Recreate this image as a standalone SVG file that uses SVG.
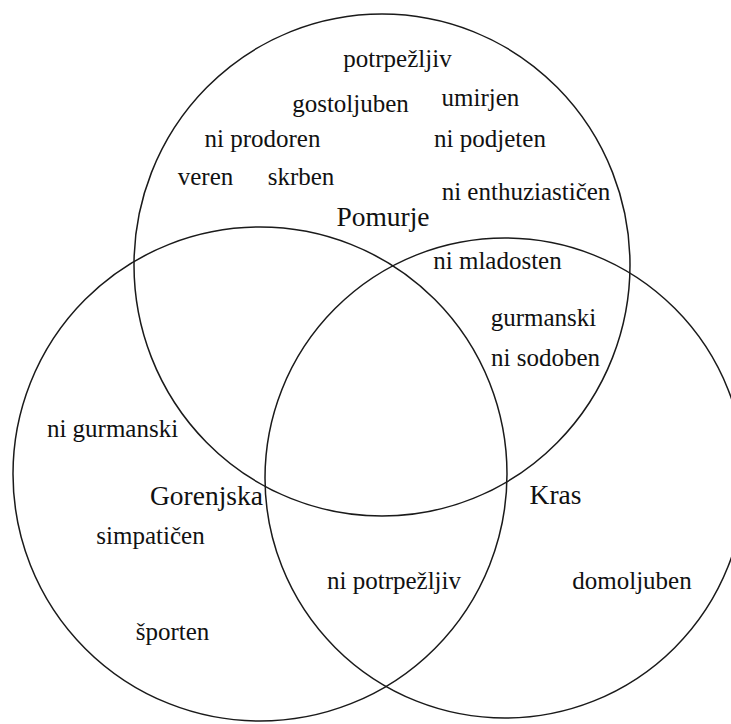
<svg xmlns="http://www.w3.org/2000/svg" width="731" height="724" viewBox="0 0 731 724">
  <style>
    .set { fill: none; stroke: #1a1a1a; stroke-width: 1.5; }
    text { font-family: 'Liberation Serif', 'DejaVu Serif', serif; fill: #111; text-anchor: middle; }
    .label { font-size: 27.5px; }
    .trait { font-size: 25px; }
  </style>
  <rect width="731" height="724" fill="#ffffff"/>

  <!-- Set circles -->
  <g id="pomurje">
    <ellipse class="set" cx="382" cy="265" rx="248" ry="251"/>
    <text class="label" x="383" y="226">Pomurje</text>
  </g>
  <g id="gorenjska">
    <circle class="set" cx="260" cy="474" r="247"/>
    <text class="label" x="206.5" y="505">Gorenjska</text>
  </g>
  <g id="kras">
    <circle class="set" cx="505" cy="478" r="240"/>
    <text class="label" x="555.5" y="504">Kras</text>
  </g>

  <!-- Traits placed in their regions -->
  <g id="traits" font-family="Liberation Serif, serif">
    <text class="trait" x="397.5" y="67">potrpežljiv</text>
    <text class="trait" x="350.5" y="112">gostoljuben</text>
    <text class="trait" x="480.5" y="106">umirjen</text>
    <text class="trait" x="262.5" y="147">ni prodoren</text>
    <text class="trait" x="490" y="147">ni podjeten</text>
    <text class="trait" x="205.5" y="185">veren</text>
    <text class="trait" x="301" y="185">skrben</text>
    <text class="trait" x="526" y="200">ni enthuziastičen</text>
    <text class="trait" x="497.5" y="269">ni mladosten</text>
    <text class="trait" x="543.5" y="326">gurmanski</text>
    <text class="trait" x="545.5" y="366">ni sodoben</text>
    <text class="trait" x="112.5" y="437">ni gurmanski</text>
    <text class="trait" x="150.5" y="544">simpatičen</text>
    <text class="trait" x="394" y="589">ni potrpežljiv</text>
    <text class="trait" x="632" y="589">domoljuben</text>
    <text class="trait" x="172.5" y="640">športen</text>
  </g>
</svg>
